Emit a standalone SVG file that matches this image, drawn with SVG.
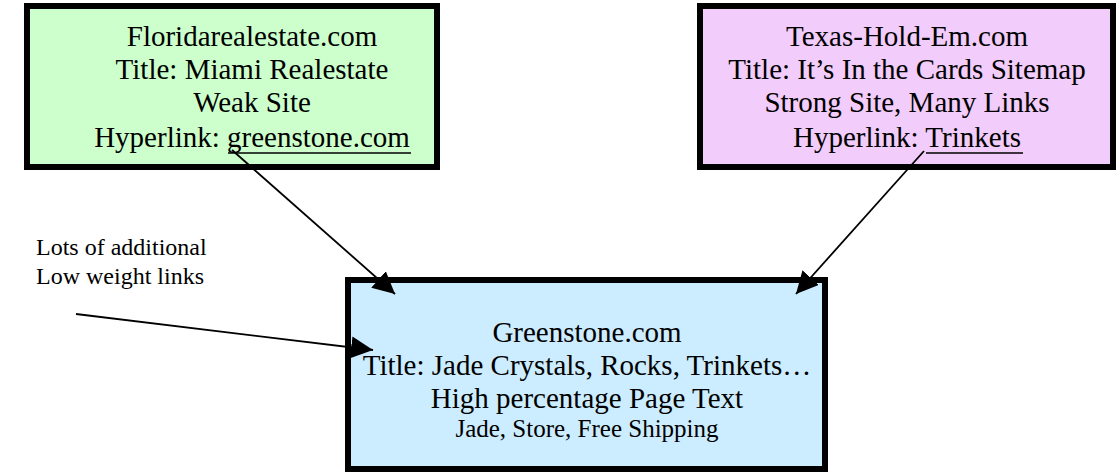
<svg xmlns="http://www.w3.org/2000/svg" width="1117" height="473" viewBox="0 0 1117 473">
  <style>
    .box { stroke: #000; stroke-width: 6; }
    .t { font-family: "Liberation Serif", "Times New Roman", serif; font-size: 29px; fill: #000; text-anchor: middle; }
    .small { font-size: 25px; }
    .note { font-family: "Liberation Serif", "Times New Roman", serif; font-size: 24px; fill: #000; }
    .link { stroke: #000; stroke-width: 1.8; fill: none; }
    .ul { stroke: #000; stroke-width: 1.6; }
  </style>
  <defs>
    <marker id="head" markerUnits="userSpaceOnUse" markerWidth="24" markerHeight="22" refX="22" refY="11" orient="auto">
      <path d="M0,0 L22,11 L0,22 z" fill="#000"/>
    </marker>
  </defs>

  <rect width="1117" height="473" fill="#fff"/>

  <g id="florida">
    <rect class="box" x="27" y="6" width="410" height="161" fill="#CCFFCC"/>
    <text class="t" x="252" y="46">Floridarealestate.com</text>
    <text class="t" x="252" y="79">Title: Miami Realestate</text>
    <text class="t" x="252" y="112">Weak Site</text>
    <text class="t" x="252" y="147">Hyperlink: greenstone.com</text>
    <line class="ul" x1="228" y1="153" x2="411" y2="153"/>
  </g>

  <g id="texas">
    <rect class="box" x="700" y="6" width="413" height="161" fill="#F2CCFA"/>
    <text class="t" x="907" y="46">Texas-Hold-Em.com</text>
    <text class="t" x="907" y="79">Title: It’s In the Cards Sitemap</text>
    <text class="t" x="907" y="112">Strong Site, Many Links</text>
    <text class="t" x="907" y="147">Hyperlink: Trinkets</text>
    <line class="ul" x1="926" y1="153" x2="1023" y2="153"/>
  </g>

  <g id="greenstone">
    <rect class="box" x="348" y="280" width="477" height="189" fill="#CCECFF"/>
    <text class="t" x="587" y="342">Greenstone.com</text>
    <text class="t" x="587" y="375">Title: Jade Crystals, Rocks, Trinkets…</text>
    <text class="t" x="587" y="408">High percentage Page Text</text>
    <text class="t small" x="587" y="437">Jade, Store, Free Shipping</text>
  </g>

  <g id="note">
    <text class="note" x="36" y="255">Lots of additional</text>
    <text class="note" x="36" y="284">Low weight links</text>
  </g>

  <g id="connectors">
    <line class="link" x1="232" y1="150" x2="395" y2="294" marker-end="url(#head)"/>
    <line class="link" x1="924" y1="151" x2="796" y2="294" marker-end="url(#head)"/>
    <line class="link" x1="76" y1="314" x2="373" y2="350" marker-end="url(#head)"/>
  </g>
</svg>
